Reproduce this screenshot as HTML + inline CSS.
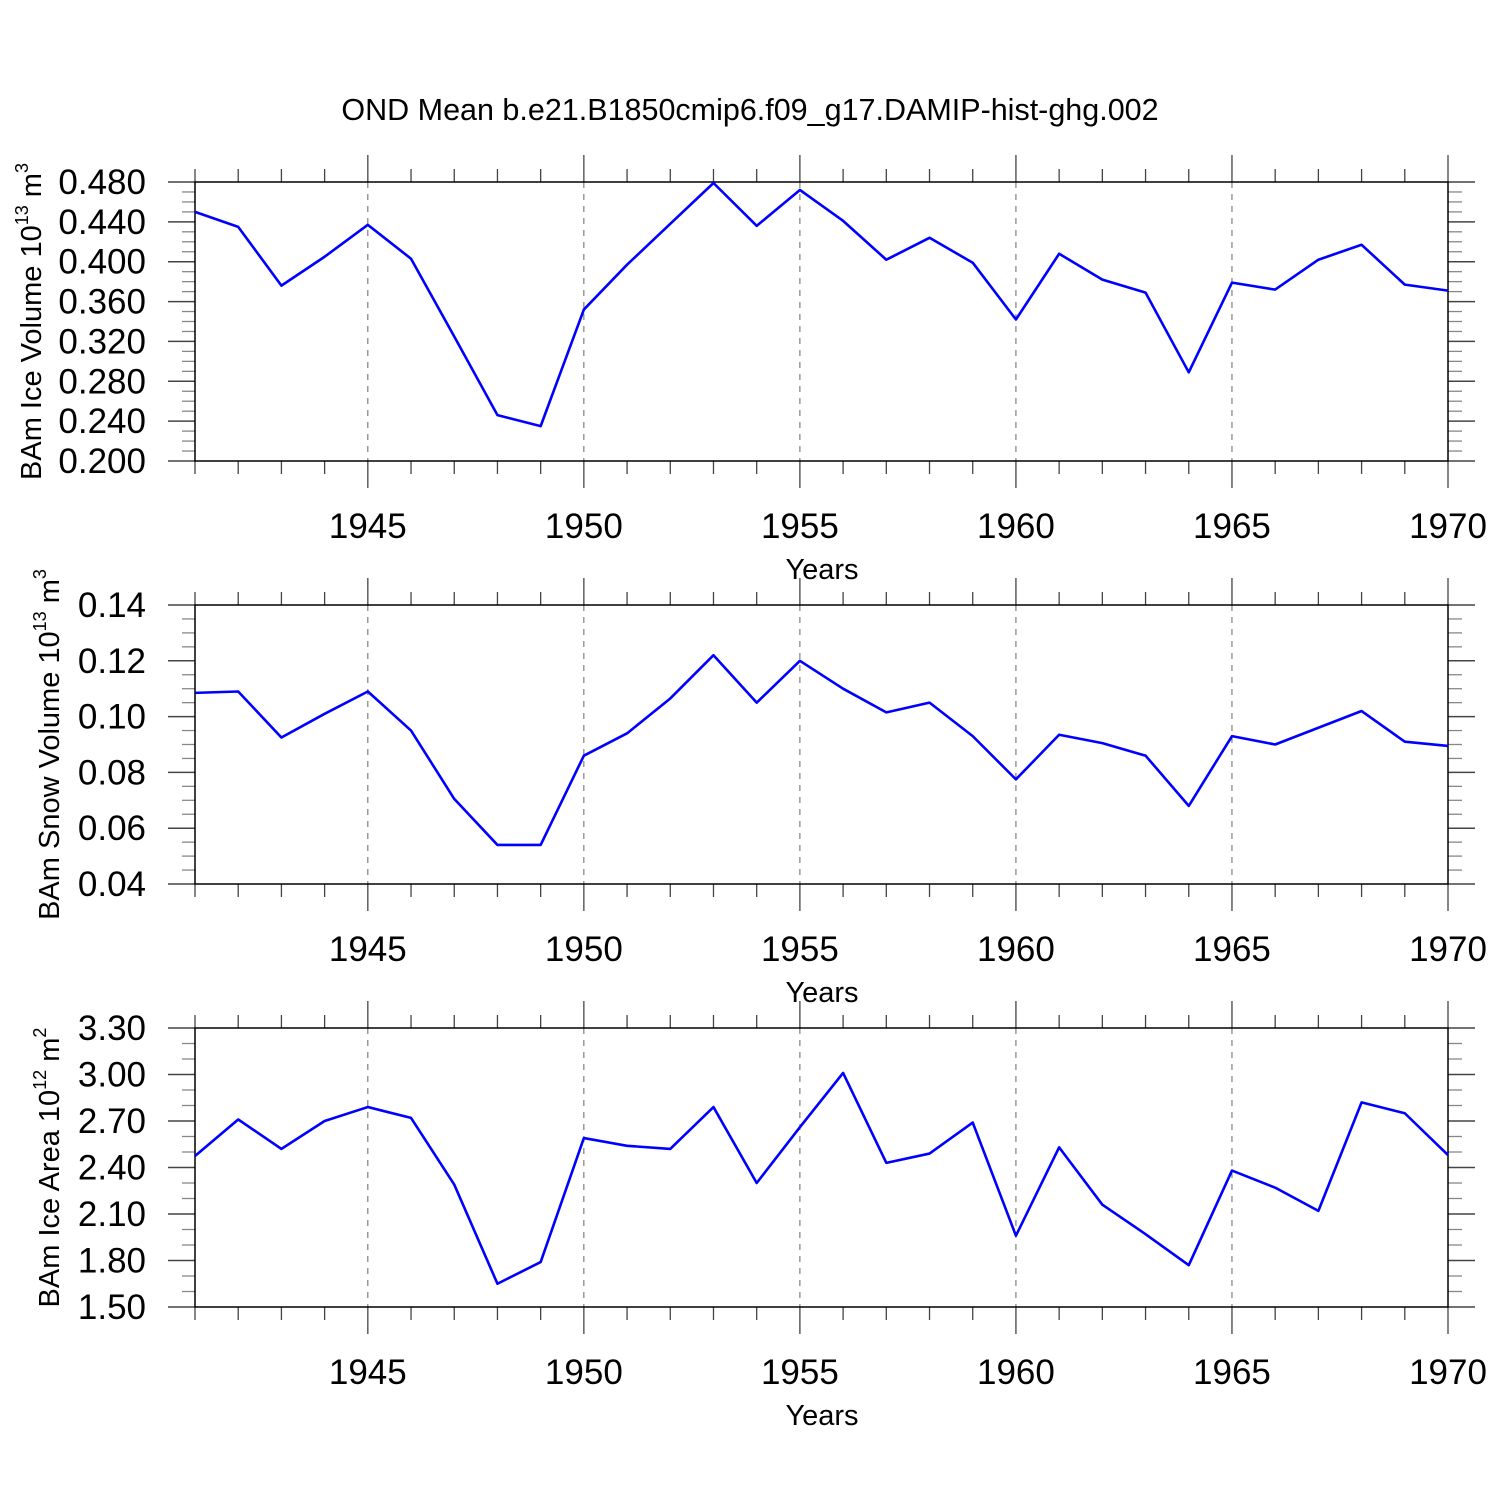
<!DOCTYPE html>
<html><head><meta charset="utf-8"><style>
html,body{margin:0;padding:0;background:#fff;}
svg{display:block;font-family:"Liberation Sans",sans-serif;}
</style></head><body>
<svg id="c" width="1500" height="1500" viewBox="0 0 1500 1500">
<rect width="1500" height="1500" fill="#fff"/>
<text x="750" y="120" text-anchor="middle" font-size="30.5">OND Mean b.e21.B1850cmip6.f09_g17.DAMIP-hist-ghg.002</text>
</svg>
<script>
const years = [1941,1942,1943,1944,1945,1946,1947,1948,1949,1950,1951,1952,1953,1954,1955,1956,1957,1958,1959,1960,1961,1962,1963,1964,1965,1966,1967,1968,1969,1970];
const iceVolume = [0.450,0.435,0.376,0.405,0.437,0.403,0.325,0.246,0.235,0.352,0.397,0.438,0.479,0.436,0.472,0.441,0.402,0.424,0.399,0.342,0.408,0.382,0.369,0.289,0.379,0.372,0.402,0.417,0.377,0.371];
const snowVolume = [0.1085,0.109,0.0925,0.101,0.109,0.095,0.0705,0.054,0.054,0.086,0.094,0.1065,0.122,0.105,0.120,0.110,0.1015,0.105,0.093,0.0775,0.0935,0.0905,0.086,0.068,0.093,0.090,0.096,0.102,0.091,0.0895];
const iceArea = [2.474,2.71,2.52,2.70,2.79,2.72,2.29,1.65,1.79,2.59,2.54,2.52,2.79,2.30,2.66,3.01,2.43,2.49,2.69,1.96,2.53,2.16,1.97,1.77,2.38,2.27,2.12,2.82,2.75,2.48];
const xTickLabels = [1945,1950,1955,1960,1965,1970];
const iceVolTicks = [0.2,0.24,0.28,0.32,0.36,0.40,0.44,0.48];
const snowTicks = [0.04,0.06,0.08,0.10,0.12,0.14];
const areaTicks = [1.5,1.8,2.1,2.4,2.7,3.0,3.3];

const NS="http://www.w3.org/2000/svg";
const svg=document.getElementById('c');
const X0=195,X1=1448,Y_MIN=1941,Y_MAX=1970;
const xs=v=>X0+(v-Y_MIN)*(X1-X0)/(Y_MAX-Y_MIN);
function mk(t,a,p){const e=document.createElementNS(NS,t);for(const k in a)e.setAttribute(k,a[k]);(p||svg).appendChild(e);return e;}
function ln(x1,y1,x2,y2,st,w,g,dash){const e=mk('line',{x1,y1,x2,y2,stroke:st||'#000','stroke-width':w||1.5},g);if(dash)e.setAttribute('stroke-dasharray',dash);return e;}

const panels=[
 {name:'ice-volume',top:182,bot:461,ticks:iceVolTicks,dec:3,minorN:4,data:iceVolume,title:['BAm Ice Volume 10','13',' m','3'],tx:41},
 {name:'snow-volume',top:605,bot:884,ticks:snowTicks,dec:2,minorN:4,data:snowVolume,title:['BAm Snow Volume 10','13',' m','3'],tx:59},
 {name:'ice-area',top:1028,bot:1307,ticks:areaTicks,dec:2,minorN:3,data:iceArea,title:['BAm Ice Area 10','12',' m','2'],tx:59}
];
panels.forEach(p=>{
 const g=mk('g',{});
 
 
 const lo=p.ticks[0],hi=p.ticks[p.ticks.length-1];
 const ys=v=>p.bot-(v-lo)*(p.bot-p.top)/(hi-lo);
 xTickLabels.forEach(yr=>{if(yr<Y_MAX)ln(xs(yr),p.top,xs(yr),p.bot,'#666',1,g,'6,6');});
 years.forEach(yr=>{
  const x=xs(yr),maj=yr%5===0;
  ln(x,p.top,x,p.top-(maj?27:13),'#444',1.3,g);
  ln(x,p.bot,x,p.bot+(maj?27:13),'#444',1.3,g);
 });
 const step=(p.ticks[1]-p.ticks[0])/p.minorN;
 for(let i=0;i<p.ticks.length;i++){
  const y=ys(p.ticks[i]);
  ln(168,y,X0,y,'#444',1.5,g);ln(X1,y,1475,y,'#444',1.5,g);
  const t=mk('text',{x:146,y:y+12,'text-anchor':'end','font-size':35},g);
  t.textContent=p.ticks[i].toFixed(p.dec);
  
  
  if(i<p.ticks.length-1)for(let k=1;k<p.minorN;k++){
   const ym=ys(p.ticks[i]+k*step);
   ln(182,ym,X0,ym,'#888',1.3,g);ln(X1,ym,1462,ym,'#888',1.3,g);
  }
 }
 mk('rect',{x:X0,y:p.top,width:X1-X0,height:p.bot-p.top,fill:'none',stroke:'#000','stroke-width':1.5},g);
 xTickLabels.forEach(yr=>{
  const t=mk('text',{x:xs(yr),y:p.bot+77,'text-anchor':'middle','font-size':35},g);
  t.textContent=yr;
  
  
 });
 const xt=mk('text',{x:822,y:p.bot+118,'text-anchor':'middle','font-size':29},g);
 xt.textContent='Years';
 
 
 const cy=(p.top+p.bot)/2;
 const yt=mk('text',{x:0,y:0,'text-anchor':'middle','font-size':29,transform:`translate(${p.tx},${cy}) rotate(-90)`},g);
 
 
 const s1=mk('tspan',{},yt);s1.textContent=p.title[0];
 const s2=mk('tspan',{'font-size':18,dy:-13},yt);s2.textContent=p.title[1];
 const s3=mk('tspan',{dy:13},yt);s3.textContent=p.title[2];
 const s4=mk('tspan',{'font-size':18,dy:-13},yt);s4.textContent=p.title[3];
 const pts=years.map((yr,i)=>xs(yr)+','+ys(p.data[i])).join(' ');
 const pl=mk('polyline',{points:pts,fill:'none',stroke:'#0000ff','stroke-width':2.6,'stroke-linejoin':'round'},g);
 
 
});
</script>
</body></html>
